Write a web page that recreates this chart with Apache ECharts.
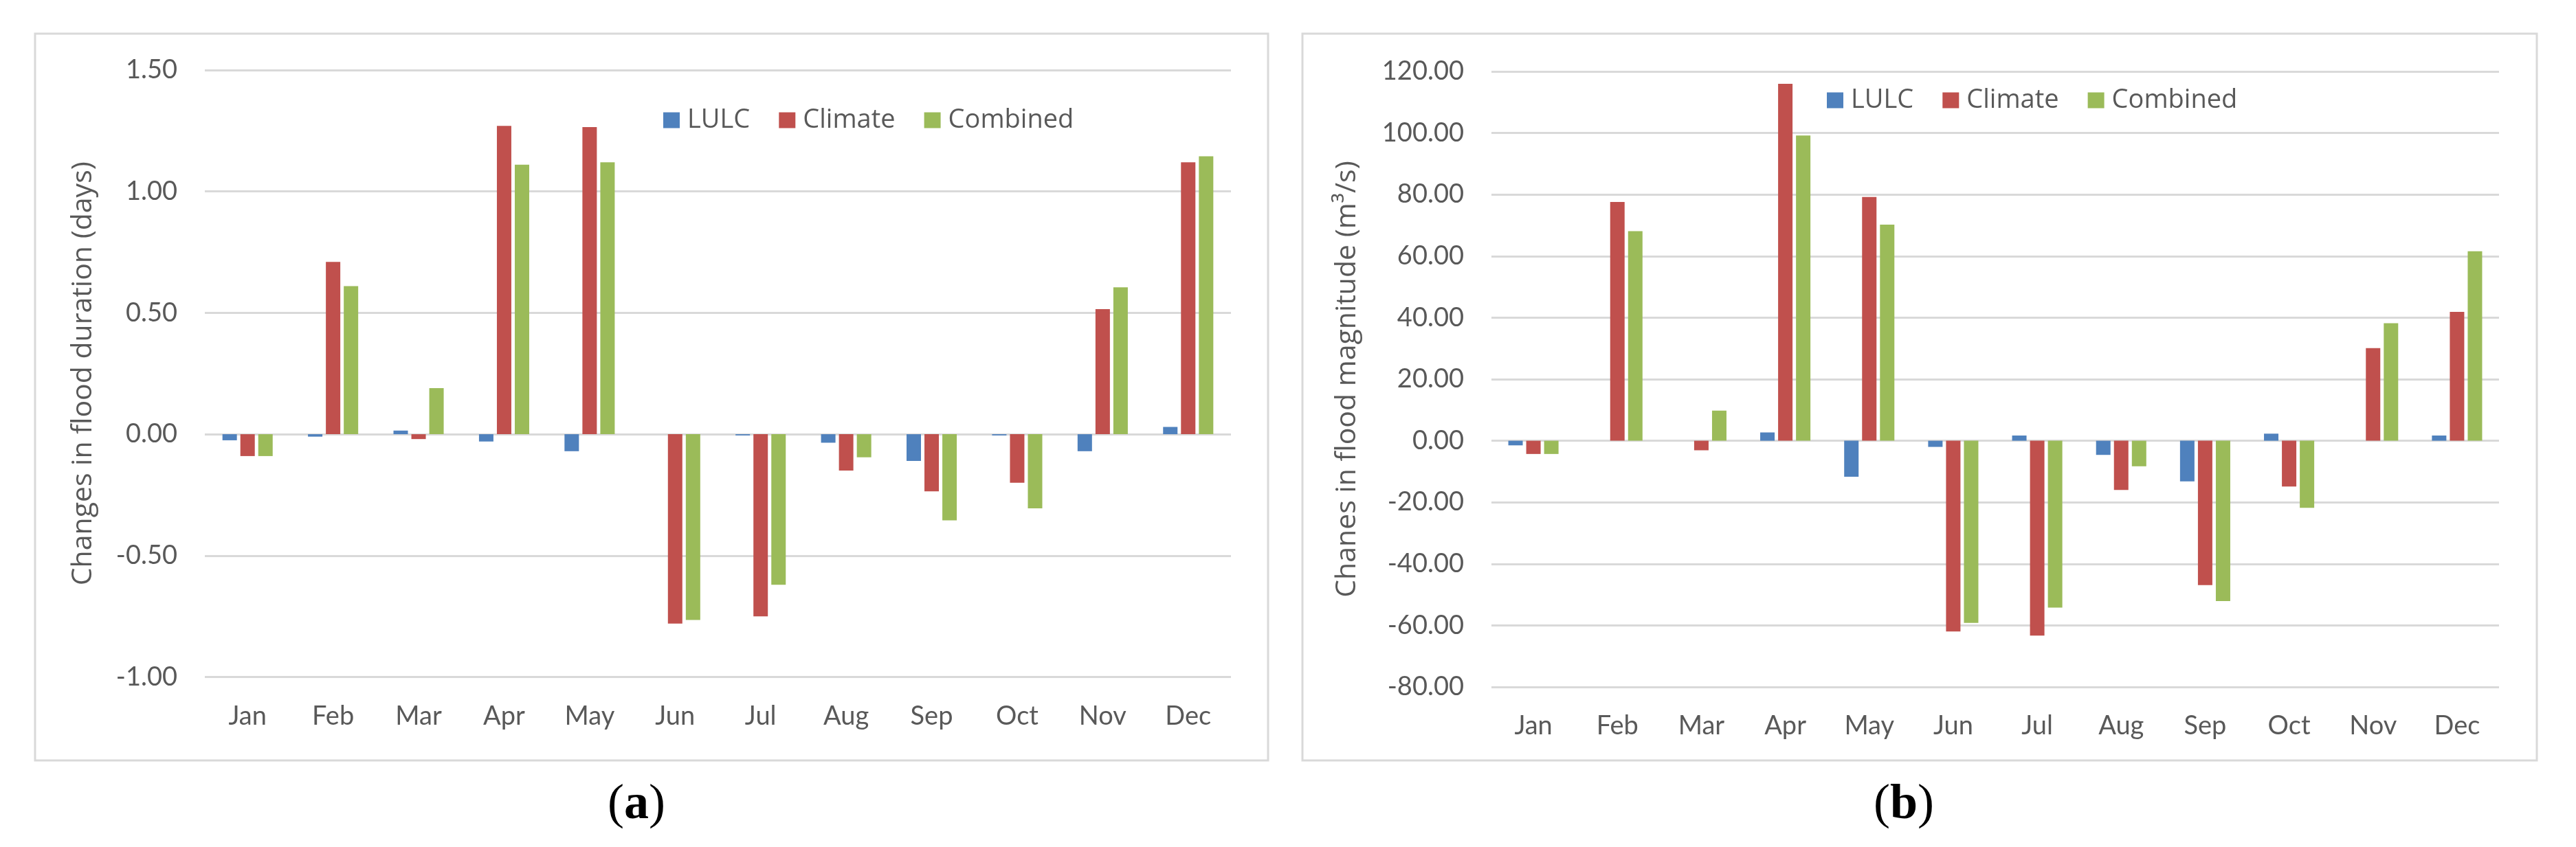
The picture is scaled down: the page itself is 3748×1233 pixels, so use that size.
<!DOCTYPE html>
<html>
<head>
<meta charset="utf-8">
<script src="https://cdn.jsdelivr.net/npm/echarts@6/dist/echarts.min.js"></script>
<style>
html,body{margin:0;padding:0;background:#fff;}
#chart{width:3748px;height:1233px;}
</style>
</head>
<body>
<div id="chart"></div>
<script>
const months = ['Jan','Feb','Mar','Apr','May','Jun','Jul','Aug','Sep','Oct','Nov','Dec'];
const seriesNames = ['LULC','Climate','Combined'];
const durationLULC = [-0.025, -0.01, 0.015, -0.03, -0.07, 0, -0.005, -0.035, -0.11, -0.005, -0.07, 0.03];
const durationClimate = [-0.09, 0.71, -0.02, 1.27, 1.265, -0.78, -0.75, -0.15, -0.235, -0.2, 0.515, 1.12];
const durationCombined = [-0.09, 0.61, 0.19, 1.11, 1.12, -0.765, -0.62, -0.095, -0.355, -0.305, 0.605, 1.145];
const magnitudeLULC = [-1.5, 0, 0, 2.7, -11.7, -2.0, 1.7, -4.6, -13.2, 2.3, 0, 1.7];
const magnitudeClimate = [-4.3, 77.6, -3.1, 116.0, 79.2, -62.0, -63.3, -16.0, -46.9, -14.9, 30.1, 41.9];
const magnitudeCombined = [-4.3, 68.1, 9.8, 99.2, 70.2, -59.2, -54.2, -8.3, -52.1, -21.8, 38.2, 61.6];
const yTitleA = 'Changes in flood duration (days)';
const yTitleB = 'Chanes in flood magnitude (m\u00b3/s)';

const colors = ['#4F81BD','#C0504D','#9BBB59'];
const textColor = '#595959';
const gridColor = '#D9D9D9';
const font = 'Lato';

const chart = echarts.init(document.getElementById('chart'), null, {renderer:'canvas'});

function xAxis(gi){
  return {
    type:'category', gridIndex:gi, data:months,
    axisLine:{show:false, onZero:false}, axisTick:{show:false},
    axisLabel:{color:textColor, fontFamily:font, fontSize:38, margin:38}
  };
}
function yAxis(gi, min, max, interval, name, gap){
  return {
    type:'value', gridIndex:gi, min:min, max:max, interval:interval,
    name:name, nameLocation:'middle', nameGap:gap, nameRotate:90,
    nameTextStyle:{color:textColor, fontFamily:'Open Sans', fontSize:41},
    axisLine:{show:false}, axisTick:{show:false},
    splitLine:{lineStyle:{color:gridColor, width:3}},
    axisLabel:{color:textColor, fontFamily:font, fontSize:38, margin:40,
      formatter:function(v){return v.toFixed(2);}}
  };
}
function bar(name, data, idx, gi){
  return {
    type:'bar', name:name, data:data, xAxisIndex:gi, yAxisIndex:gi,
    barWidth:21, barGap:'24%', itemStyle:{color:colors[idx]}
  };
}
function legend(left, top){
  return {
    data:seriesNames, left:left, top:top, padding:0,
    itemWidth:24, itemHeight:23, itemGap:42, icon:'rect',
    textStyle:{color:textColor, fontFamily:'Open Sans', fontSize:38, padding:[0,0,0,6]}
  };
}

chart.setOption({
  backgroundColor:'#ffffff',
  animation:false,
  color:colors,
  grid:[
    {left:298, top:102, width:1493, height:883.5},
    {left:2170, top:104, width:1466, height:896}
  ],
  legend:[legend(965, 156), legend(2658, 127)],
  xAxis:[xAxis(0), xAxis(1)],
  yAxis:[
    yAxis(0, -1, 1.5, 0.5, yTitleA, 156),
    yAxis(1, -80, 120, 20, yTitleB, 189)
  ],
  series:[
    bar('LULC', durationLULC, 0, 0),
    bar('Climate', durationClimate, 1, 0),
    bar('Combined', durationCombined, 2, 0),
    bar('LULC', magnitudeLULC, 0, 1),
    bar('Climate', magnitudeClimate, 1, 1),
    bar('Combined', magnitudeCombined, 2, 1)
  ],
  graphic:[
    {type:'rect', shape:{x:51, y:49, width:1794, height:1058}, style:{fill:null, stroke:gridColor, lineWidth:3}, silent:true, z:-1},
    {type:'rect', shape:{x:1895, y:49, width:1796, height:1058}, style:{fill:null, stroke:gridColor, lineWidth:3}, silent:true, z:-1},
    {type:'text', x:926, y:1172, style:{text:'{p|(}{b|a}{p|)}', align:'center', verticalAlign:'middle',
      rich:{p:{fontFamily:'Liberation Serif', fontSize:72, fill:'#000'}, b:{fontFamily:'Liberation Serif', fontWeight:'bold', fontSize:72, fill:'#000'}}}},
    {type:'text', x:2770, y:1172, style:{text:'{p|(}{b|b}{p|)}', align:'center', verticalAlign:'middle',
      rich:{p:{fontFamily:'Liberation Serif', fontSize:72, fill:'#000'}, b:{fontFamily:'Liberation Serif', fontWeight:'bold', fontSize:72, fill:'#000'}}}}
  ]
});
</script>
</body>
</html>
